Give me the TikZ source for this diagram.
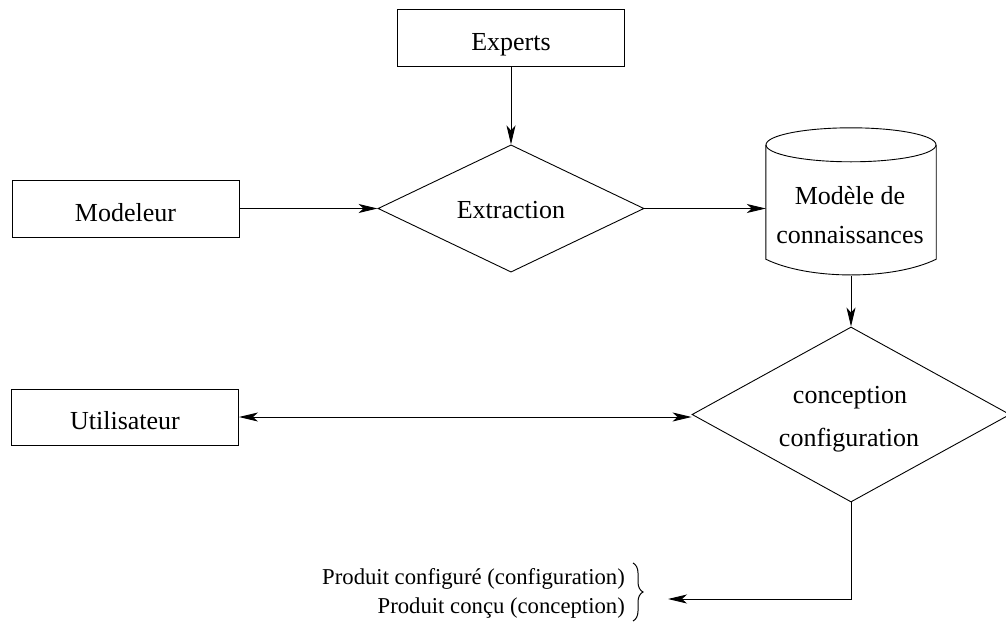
\documentclass[tikz,border=0pt]{standalone}
\usepackage{fontspec}
\setmainfont{Liberation Serif}
\usetikzlibrary{arrows.meta,shapes.geometric,decorations.pathreplacing,calc}

\tikzset{
  x=1pt, y=-1pt,
  txt/.style={font=\fontsize{26}{30}\selectfont, inner sep=0pt},
  smalltxt/.style={font=\fontsize{22.7}{29}\selectfont, inner sep=0pt},
  entity/.style={draw, line width=0.9pt, rectangle, minimum width=227pt,
    minimum height=57pt, inner sep=0pt, text height=25pt, text depth=0pt,
    font=\fontsize{26}{30}\selectfont},
  decision/.style={draw, line width=0.9pt, diamond, inner sep=0pt,
    font=\fontsize{26}{30}\selectfont},
  flow/.style={line width=0.9pt, -{Stealth[length=19pt,width=9pt,inset=5pt]}},
  bothflow/.style={line width=0.9pt,
    {Stealth[length=19pt,width=9pt,inset=5pt]}-{Stealth[length=19pt,width=9pt,inset=5pt]}},
}

\begin{document}
\begin{tikzpicture}
\useasboundingbox (0,0) rectangle (1006,632);
\clip (0,0) rectangle (1006,632);

% sources
\node[entity] (experts) at (511,37.5) {Experts};
\node[entity] (modeleur) at (125.5,208.5) {Modeleur};
\node[entity, minimum height=56pt] (utilisateur) at (125,417) {Utilisateur};

% extraction step
\node[decision, minimum width=266pt, minimum height=107pt,
      text height=19pt, text depth=0pt] (extraction) at (511,208.5) {Extraction};

% knowledge base (cylinder)
\node[minimum width=170pt, minimum height=148pt, inner sep=0pt] (modele) at (851,202) {};
\draw[line width=0.9pt]
  ($(modele.north west)+(0,17)$) -- ($(modele.south west)+(0,-17)$)
  .. controls ($(modele.south west)+(43,4)$) and ($(modele.south east)+(-43,4)$)
  .. ($(modele.south east)+(0,-17)$)
  -- ($(modele.north east)+(0,17)$);
\draw[line width=0.9pt] ($(modele.north)+(0,17)$) ellipse[x radius=85pt, y radius=17pt];
\node[txt, anchor=base] (modeleA) at (850,204) {Modèle de};
\node[txt, anchor=base] (modeleB) at (850,243) {connaissances};

% design / configuration step
\node[decision, minimum width=318pt, minimum height=175pt] (conception) at (851,414.5) {};
\node[txt, anchor=base] (conceptionA) at (850,403) {conception};
\node[txt, anchor=base] (conceptionB) at (849,446) {configuration};

% results
\node[smalltxt, anchor=base east] (prodA) at (625,584) {Produit configuré (configuration)};
\node[smalltxt, anchor=base east] (prodB) at (625,613) {Produit conçu (conception)};
\draw[line width=1pt, decorate, decoration={brace, amplitude=10pt}]
  (633,563) -- (633,621);
\coordinate (result) at (668,599);

% connectors
\draw[flow] (experts) -- (extraction.north);
\draw[flow] (modeleur) -- (extraction.west);
\draw[flow] (extraction.east) -- (extraction.east -| modele.west);
\draw[flow] (modele.south) -- (conception.north);
\draw[bothflow] (utilisateur.east) -- (utilisateur.east -| conception.west);
\draw[flow] (conception.south) |- (result);
\end{tikzpicture}
\end{document}
